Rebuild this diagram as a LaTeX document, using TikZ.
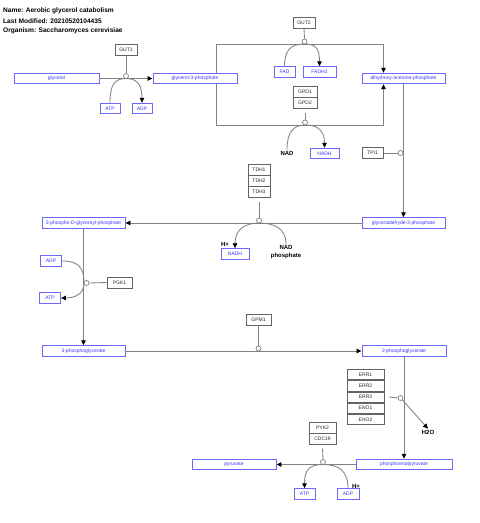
\documentclass[tikz,border=0pt]{standalone}
\usepackage{fontspec}
\setmainfont{Liberation Sans}
\usetikzlibrary{arrows.meta,calc}
\pgfdeclarelayer{bg}
\pgfsetlayers{bg,main}
\definecolor{mblue}{RGB}{105,105,255}
\definecolor{mtext}{RGB}{55,55,255}
\definecolor{lgray}{RGB}{130,130,130}
\definecolor{gborder}{RGB}{100,100,100}
\definecolor{gtext}{RGB}{40,40,40}
\tikzset{
  met/.style={draw=mblue, text=mtext, fill=white, line width=0.9pt, minimum height=10.5, inner sep=0pt, font=\fontsize{5}{6}\selectfont},
  gene/.style={draw=gborder, text=gtext, fill=white, line width=0.8pt, minimum height=11, inner sep=0pt, font=\fontsize{5}{6}\selectfont},
  ttl/.style={anchor=west, inner sep=0pt, font=\bfseries\fontsize{6.6}{7.5}\selectfont},
  lbl/.style={inner sep=1pt, font=\bfseries\fontsize{6}{7.5}\selectfont},
  anc/.style={circle, draw=lgray, fill=white, line width=0.7pt, minimum size=5, inner sep=0pt},
  conn/.style={draw=lgray, line width=0.85pt},
  arr/.style={conn, -{Triangle[length=5pt,width=4.5pt,color=black]}}
}
\begin{document}
\begin{tikzpicture}[x=1pt,y=-1pt]
\useasboundingbox (0,0) rectangle (480,523);
% title
\node[ttl] (t1) at (3,10.5) {Name: Aerobic glycerol catabolism};
\node[ttl] (t2) at (3,20.8) {Last Modified: 20210520104435};
\node[ttl] (t3) at (3,31) {Organism: Saccharomyces cerevisiae};
% metabolites
\node[met, minimum width=85] (glycerol) at (56.5,78.5) {glycerol};
\node[met, minimum width=84] (g3p) at (195,78.5) {glycerol-3-phosphate};
\node[met, minimum width=20] (atp1) at (110,108.5) {ATP};
\node[met, minimum width=20] (adp1) at (142,108.5) {ADP};
\node[met, minimum width=21] (fad) at (284.5,72) {FAD};
\node[met, minimum width=33] (fadh2) at (319.5,72) {FADH2};
\node[met, minimum width=83] (dhap) at (403.5,78.5) {dihydroxy-acetone-phosphate};
\node[met, minimum width=29] (nadh1) at (324.5,153.5) {NADH};
\node[met, minimum width=83] (gap) at (403.5,223) {glyceraldehyde-3-phosphate};
\node[met, minimum width=28] (nadh2) at (235,254) {NADH};
\node[met, minimum width=83] (bpg) at (83.5,223) {3-phospho-D-glyceroyl-phosphate};
\node[met, minimum width=21] (adp2) at (51,261) {ADP};
\node[met, minimum width=21] (atp2) at (50,298) {ATP};
\node[met, minimum width=83] (pg3) at (83.5,351) {3-phosphoglycerate};
\node[met, minimum width=84] (pg2) at (404,351) {2-phosphoglycerate};
\node[met, minimum width=96] (pep) at (404,464.5) {phosphoenolpyruvate};
\node[met, minimum width=84] (pyr) at (234,464.5) {pyruvate};
\node[met, minimum width=21] (atp3) at (304.5,494) {ATP};
\node[met, minimum width=22] (adp3) at (348,494) {ADP};
% genes
\node[gene, minimum width=22] (gut1) at (126,49.5) {GUT1};
\node[gene, minimum width=22] (gut2) at (304,22.5) {GUT2};
\node[gene, minimum width=24] (gpd1) at (305,91.5) {GPD1};
\node[gene, minimum width=24] (gpd2) at (305,102.5) {GPD2};
\node[gene, minimum width=21] (tpi1) at (372.5,153) {TPI1};
\node[gene, minimum width=22] (tdh1) at (259,169.5) {TDH1};
\node[gene, minimum width=22] (tdh2) at (259,180.5) {TDH2};
\node[gene, minimum width=22] (tdh3) at (259,191.5) {TDH3};
\node[gene, minimum width=25] (pgk1) at (119.5,282.5) {PGK1};
\node[gene, minimum width=25] (gpm1) at (258.5,320) {GPM1};
\node[gene, minimum width=37, minimum height=10.2] (err1) at (365.5,374.6) {ERR1};
\node[gene, minimum width=37, minimum height=10.2] (err2) at (365.5,385.8) {ERR2};
\node[gene, minimum width=37, minimum height=10.2] (err3) at (365.5,397) {ERR3};
\node[gene, minimum width=37, minimum height=10.2] (eno1) at (365.5,408.2) {ENO1};
\node[gene, minimum width=37, minimum height=10.2] (eno2) at (365.5,419.4) {ENO2};
\node[gene, minimum width=27] (pyk2) at (322.5,427.5) {PYK2};
\node[gene, minimum width=27] (cdc19) at (322.5,438.5) {CDC19};
% free labels
\node[lbl] (nad1) at (287,153) {NAD};
\node[lbl] (hp1) at (225,244.5) {H+};
\node[lbl, align=center, font=\bfseries\fontsize{6}{8}\selectfont] (nadp) at (286,252) {NAD\\phosphate};
\node[lbl] (h2o) at (428,432) {H2O};
\node[lbl] (hp2) at (356,486) {H+};
% anchor circles
\node[anc] (a1) at (126,76) {};
\node[anc] (a2) at (304.5,41.5) {};
\node[anc] (a3) at (305,122.5) {};
\node[anc] (a4) at (400.5,153) {};
\node[anc] (a5) at (259,220.5) {};
\node[anc] (a6) at (86.5,283) {};
\node[anc] (a7) at (258.5,348.5) {};
\node[anc] (a8) at (400.5,398) {};
\node[anc] (a9) at (323,462) {};
% points on lines
\coordinate (m1) at (126,78.5);
\coordinate (m2) at (304.5,44);
\coordinate (m3) at (305,125);
\coordinate (m5) at (259,223);
\coordinate (m6) at (84,283);
\coordinate (m9) at (323,464.5);
\coordinate (tl) at (216,44);
\coordinate (tr) at (383.5,44);
\coordinate (bl) at (216,125);
\coordinate (br) at (383.5,125);
\begin{pgfonlayer}{bg}
% main conversions
\draw[arr] (glycerol.east) -- (g3p.west);
\draw[arr] (g3p.north -| tl) -- (tl) -- (tr) -- (dhap.north -| tr);
\draw[arr] (g3p.south -| bl) -- (bl) -- (br) -- (dhap.south -| br);
\draw[arr] (dhap.south) -- (gap.north);
\draw[arr] (gap.west) -- (bpg.east);
\draw[arr] (bpg.south) -- (pg3.north);
\draw[arr] (pg3.east) -- (pg2.west);
\draw[arr] (pg2.south) -- (pep.north);
\draw[arr] (pep.west) -- (pyr.east);
% side reactions
\draw[arr] (atp1.north) .. controls +(0,-17) and +(-12,0) .. (m1) .. controls +(12,0) and +(0,-17) .. (adp1.north);
\draw[arr] (fad.north) .. controls +(0,-17) and +(-13,0) .. (m2) .. controls +(12,0) and +(0,-17) .. (fadh2.north);
\draw[arr] (nad1.north) .. controls +(0,-17) and +(-12,0) .. (m3) .. controls +(13,0) and +(0,-17) .. (nadh1.north);
\draw[arr] (nadp.north) .. controls +(0,-16) and +(15,0) .. (m5) .. controls +(-15,0) and +(0,-18) .. (nadh2.north);
\draw[arr] (adp2.east) .. controls +(16,0) and +(0,-16) .. (m6) .. controls +(0,11) and +(14,0) .. (atp2.east);
\draw[arr] (a8.south east) -- (h2o.north);
\draw[arr] (adp3.north) .. controls +(0,-18) and +(15,0) .. (m9) .. controls +(-14,0) and +(0,-18) .. (atp3.north);
% enzyme links
\draw[conn] (gut1.south) -- (a1.north);
\draw[conn] (gut2.south) -- (a2.north);
\draw[conn] ($(gpd2.south)+(0,5)$) -- (a3.north);
\draw[conn] (tpi1.east) -- (a4.west);
\draw[conn] ($(tdh3.south)+(0,5)$) -- (a5.north);
\draw[conn] (pgk1.west) -- (a6.east);
\draw[conn] (gpm1.south) -- (a7.north);
\draw[conn] ($(err3.east)+(5,0)$) -- (a8.west);
\draw[conn] ($(cdc19.south)+(0,4)$) -- (a9.north);
\end{pgfonlayer}
\end{tikzpicture}
\end{document}
